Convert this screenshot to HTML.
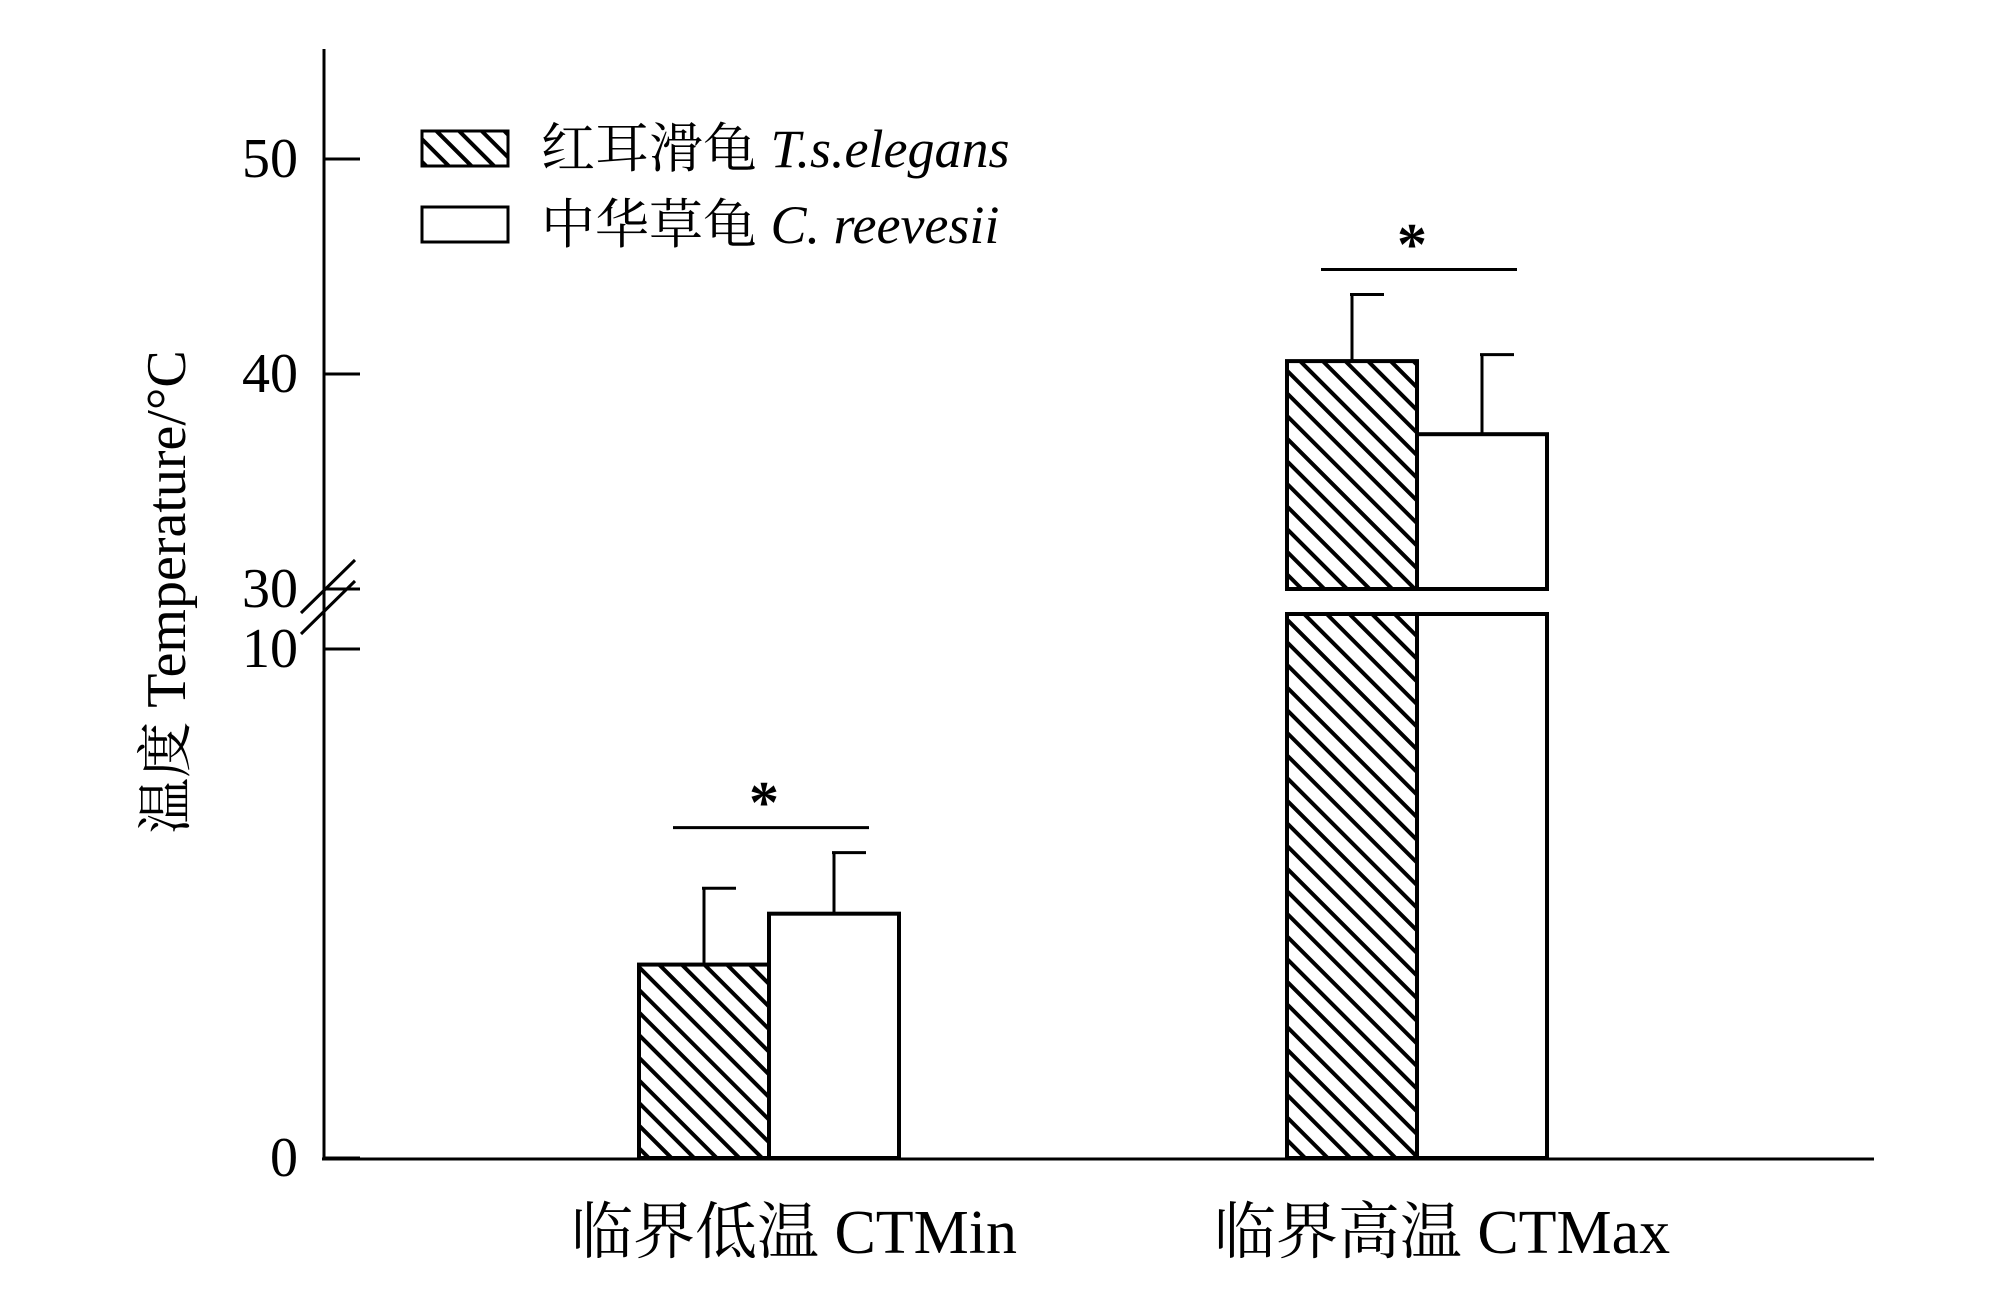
<!DOCTYPE html>
<html><head><meta charset="utf-8"><style>
html,body{margin:0;padding:0;background:#fff}
svg text{font-family:"Liberation Serif","Noto Serif CJK SC",serif;fill:#000}
</style></head><body>
<svg width="2008" height="1299" viewBox="0 0 2008 1299" xmlns="http://www.w3.org/2000/svg">
<defs>
<pattern id="hatch" patternUnits="userSpaceOnUse" width="16" height="16" patternTransform="rotate(-45)">
<rect width="16" height="16" fill="#fff"/>
<line x1="0" y1="0" x2="0" y2="16" stroke="#000" stroke-width="4" transform="translate(8,0)"/>
</pattern>
</defs>
<g id="plot"></g>
</svg>
<script>
const categories = ["临界低温 CTMin", "临界高温 CTMax"];
const seriesNames = ["红耳滑龟", "中华草龟"];
const seriesLatin = ["T.s.elegans", "C. reevesii"];
const tsMeans = [3.8, 40.6];
const tsErrors = [1.5, 3.1];
const crMeans = [4.8, 37.2];
const crErrors = [1.2, 3.7];
const lowTicks = [0, 10];
const highTicks = [30, 40, 50];

const NS = "http://www.w3.org/2000/svg";
const g = document.getElementById('plot');
function el(tag, attrs, text){
  const e = document.createElementNS(NS, tag);
  for (const k in attrs) e.setAttribute(k, attrs[k]);
  if (text !== undefined) e.textContent = text;
  g.appendChild(e);
  return e;
}
// axis functions (broken axis)
const y0 = 1158, y10 = 649, y30 = 589, y40 = 374;
function yScale(v){
  if (v <= 10) return y0 - (y0 - y10) * v / 10;
  return y30 - (y30 - y40) * (v - 30) / 10;
}
const groupCenters = [769, 1417];
const barW = 130;
function xBar(ci, si){ return groupCenters[ci] - barW + si * barW; }

const axisX = 324;
let e;
e = el('line', {x1:axisX, y1:49, x2:axisX, y2:1159, stroke:'#000', 'stroke-width':3});


e = el('line', {x1:axisX-2, y1:1159, x2:1874, y2:1159, stroke:'#000', 'stroke-width':3});


// break marks
e = el('line', {x1:301, y1:613, x2:355, y2:560, stroke:'#000', 'stroke-width':3});


e = el('line', {x1:301, y1:634, x2:355, y2:581, stroke:'#000', 'stroke-width':3});



lowTicks.concat(highTicks).forEach(t => {
  const y = yScale(t);
  let tk = el('line', {x1:axisX, y1:y, x2:360, y2:y, stroke:'#000', 'stroke-width':3});
  
  
  let lb = el('text', {x:298, y: t===0 ? y+18 : (t===10 ? y+18 : y+18), 'text-anchor':'end', 'font-size':56}, String(t));
  
  
});

// bars
const means = [tsMeans, crMeans];
const errs = [tsErrors, crErrors];
categories.forEach((c, ci) => {
  [0,1].forEach(si => {
    const v = means[si][ci];
    const x = xBar(ci, si);
    const fill = si === 0 ? 'url(#hatch)' : '#fff';
    if (v > 10) {
      let lower = el('rect', {x:x, y:614, width:barW, height:y0-614, fill:fill, stroke:'#000', 'stroke-width':4});
      
      
      const yt = yScale(v);
      let upper = el('rect', {x:x, y:yt, width:barW, height:y30-yt, fill:fill, stroke:'#000', 'stroke-width':4});
      
      
    } else {
      const yt = yScale(v);
      let b = el('rect', {x:x, y:yt, width:barW, height:y0-yt, fill:fill, stroke:'#000', 'stroke-width':4});
      
      
    }
    const cx = x + barW/2, yt = yScale(v), ye = yScale(v + errs[si][ci]);
    let eb = el('line', {x1:cx, y1:yt, x2:cx, y2:ye, stroke:'#000', 'stroke-width':3});
    
    
    let cap = el('line', {x1:cx-2, y1:ye, x2:cx+32, y2:ye, stroke:'#000', 'stroke-width':3});
    
    
  });
  // significance
  const topErr = Math.max(yScale(tsMeans[ci]+tsErrors[ci]) , 0);
  const maxV = Math.max(tsMeans[ci]+tsErrors[ci], crMeans[ci]+crErrors[ci]);
  const ys = yScale(maxV) - 25 - (ci===1?0:0);
  const gc = groupCenters[ci];
  let s = el('line', {x1:gc-96, y1:ys, x2:gc+100, y2:ys, stroke:'#000', 'stroke-width':3});
  
  
  let a = el('text', {x:gc-5, y:ys-5, 'text-anchor':'middle', 'font-size':60, 'font-weight':'bold'}, '*');
  
  
  let xl = el('text', {x:gc+25, y:1253, 'text-anchor':'middle', 'font-size':62}, c);
  
  
});

// y axis title
e = el('text', {x:0, y:0, 'text-anchor':'middle', 'font-size':56, transform:'translate(185,592) rotate(-90)'}, '温度 Temperature/°C');



// legend
[0,1].forEach(si => {
  const yTop = si === 0 ? 131 : 207;
  let box = el('rect', {x:422, y:yTop, width:86, height:35, fill: si===0?'url(#hatch)':'#fff', stroke:'#000', 'stroke-width':3});
  
  
  const t = el('text', {x:541, y:yTop+36, 'font-size':54});
  
  
  t.textContent = seriesNames[si] + ' ';
  const ts = document.createElementNS(NS, 'tspan');
  ts.setAttribute('font-style', 'italic');
  ts.textContent = seriesLatin[si];
  t.appendChild(ts);
});
</script>
</body></html>
